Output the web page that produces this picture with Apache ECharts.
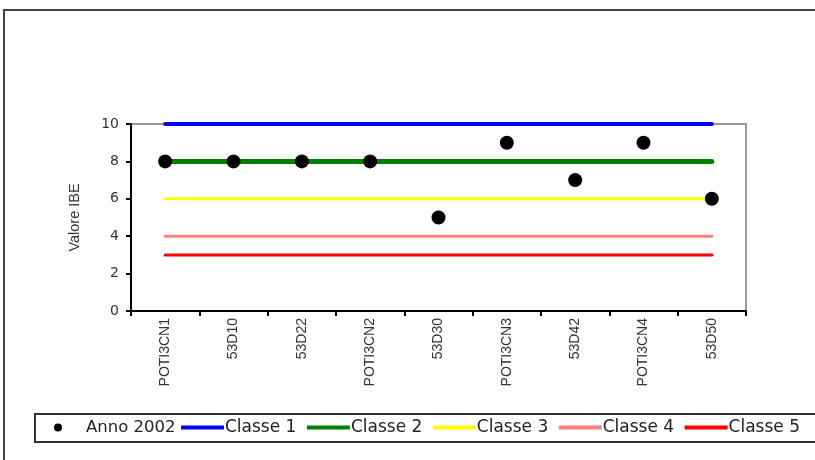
<!DOCTYPE html>
<html>
<head>
<meta charset="utf-8">
<script src="https://cdn.jsdelivr.net/npm/echarts@6/dist/echarts.min.js"></script>
<style>
html,body{margin:0;padding:0;background:#fff;}
#chart{width:815px;height:460px;}
</style>
</head>
<body>
<div id="chart"></div>
<script>
var categories = ['POTI3CN1','53D10','53D22','POTI3CN2','53D30','POTI3CN3','53D42','POTI3CN4','53D50'];
var anno2002 = [8, 8, 8, 8, 5, 9, 7, 9, 6];
var classe1 = [10, 10, 10, 10, 10, 10, 10, 10, 10];
var classe2 = [8, 8, 8, 8, 8, 8, 8, 8, 8];
var classe3 = [6, 6, 6, 6, 6, 6, 6, 6, 6];
var classe4 = [4, 4, 4, 4, 4, 4, 4, 4, 4];
var classe5 = [3, 3, 3, 3, 3, 3, 3, 3, 3];
var pointName = 'Anno 2002';
var classNames = ['Classe 1','Classe 2','Classe 3','Classe 4','Classe 5'];
var yAxisTitle = 'Valore IBE';

var chart = echarts.init(document.getElementById('chart'), null, {renderer:'canvas'});

function lineSeries(name, data, color, width) {
  return {
    name: name, type: 'line', data: data, symbol: 'none', showSymbol: false,
    lineStyle: {color: color, width: width, cap: 'round'}, itemStyle: {color: color},
    z: 2, silent: true, animation: false
  };
}

var option = {
  animation: false,
  backgroundColor: '#fff',
  textStyle: {fontFamily: 'Liberation Sans, Arial, sans-serif'},
  graphic: [
    {type: 'rect', shape: {x: 4, y: 10, width: 900, height: 520}, style: {fill: 'none', stroke: '#444', lineWidth: 2}, z: 0},
    {type: 'rect', shape: {x: 35, y: 414, width: 800, height: 28}, style: {fill: 'none', stroke: '#333', lineWidth: 2}, z: 0}
  ],
  grid: {left: 131, right: 69, top: 124, bottom: 149, show: true, borderColor: '#999', borderWidth: 2, backgroundColor: 'transparent'},
  legend: [
    {
      left: 54, top: 419, padding: 0, orient: 'horizontal', itemWidth: 8, itemHeight: 8, selectedMode: false,
      textStyle: {fontFamily: 'DejaVu Sans', fontSize: 16.5, color: '#222', padding: [0,0,0,19]},
      data: [{name: pointName, icon: 'circle'}]
    },
    {
      left: 181, top: 419, padding: 0, orient: 'horizontal', itemWidth: 43, itemHeight: 4, itemGap: 10.5, selectedMode: false,
      textStyle: {fontFamily: 'DejaVu Sans', fontSize: 17, color: '#222', padding: [0,0,0,-4]},
      data: classNames.map(function(n){ return {name: n, icon: 'rect'}; })
    }
  ],
  xAxis: {
    type: 'category', data: categories, boundaryGap: true,
    axisLine: {lineStyle: {color: '#000', width: 2}},
    axisTick: {show: true, length: 5, inside: false, alignWithLabel: false, lineStyle: {color: '#000', width: 2}},
    axisLabel: {rotate: 90, fontSize: 14, color: '#333', margin: 7, interval: 0}
  },
  yAxis: {
    type: 'value', min: 0, max: 10, interval: 2,
    name: yAxisTitle, nameLocation: 'middle', nameGap: 49, nameRotate: 90,
    nameTextStyle: {fontSize: 14.5, color: '#333'},
    splitLine: {show: false},
    axisLine: {show: true, lineStyle: {color: '#000', width: 2}},
    axisTick: {show: true, length: 5, lineStyle: {color: '#000', width: 2}},
    axisLabel: {fontFamily: 'DejaVu Sans', fontSize: 14, color: '#333', margin: 12}
  },
  series: [
    {name: pointName, type: 'scatter', data: anno2002, symbol: 'circle', symbolSize: 14, itemStyle: {color: '#000', opacity: 1}, z: 5},
    lineSeries(classNames[0], classe1, '#0000ff', 4),
    lineSeries(classNames[1], classe2, '#008000', 5),
    lineSeries(classNames[2], classe3, '#ffff00', 3),
    lineSeries(classNames[3], classe4, '#ff8080', 3),
    lineSeries(classNames[4], classe5, '#ff0000', 3)
  ]
};
chart.setOption(option);
</script>
</body>
</html>
